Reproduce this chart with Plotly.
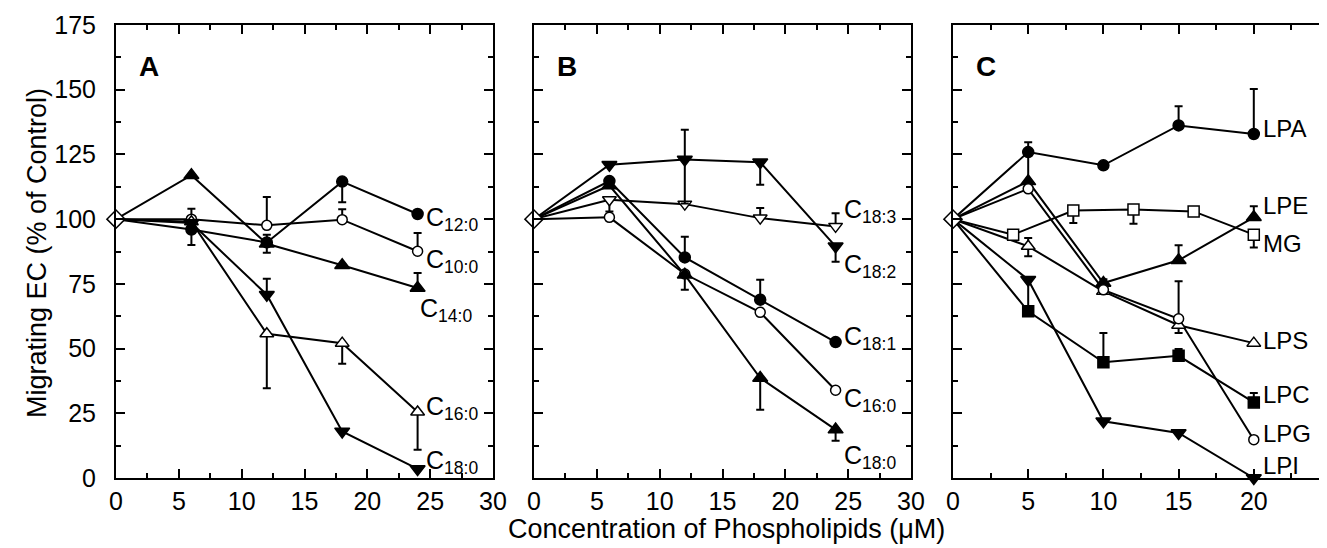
import plotly.graph_objects as go

# ---------------- data ----------------
xA = [0, 6, 12, 18, 24]
A_C12 = [100, 96, 91, 114.5, 102]
A_C12_minus = [0, 6, 0, 8, 0]
A_C10 = [100, 100, 97.6, 99.8, 87.6]
A_C10_plus = [0, 4, 11, 4, 7]
A_C14 = [100, 117, 90.5, 82.2, 73.4]
A_C14_plus = [0, 0, 3.5, 0, 5.8]
A_C14_minus = [0, 0, 3.5, 0, 0]
A_C16 = [100, 99, 55.7, 52.1, 25.5]
A_C16_minus = [0, 0, 21, 8, 14.6]
A_C18 = [100, 98.5, 70.8, 18, 3.5]
A_C18_plus = [0, 0, 6.2, 0, 0]

xB = [0, 6, 12, 18, 24]
B_C183 = [100, 107.5, 105.8, 100.4, 97.2]
B_C183_plus = [0, 0, 0, 3.9, 5.1]
B_C183_minus = [0, 4.5, 0, 0, 0]
B_C182 = [100, 121, 123, 122, 89.5]
B_C182_plus = [0, 0, 11.5, 0, 0]
B_C182_minus = [0, 0, 17, 8.7, 6]
B_C181 = [100, 114.7, 85.2, 68.9, 52.5]
B_C181_plus = [0, 0, 8, 7.7, 0]
B_C160 = [100, 100.7, 78.8, 64, 33.9]
B_C180 = [100, 113, 78.5, 38.6, 18.7]
B_C180_minus = [0, 0, 5.8, 12.2, 4.3]

xC = [0, 5, 10, 15, 20]
xMG = [0, 4, 8, 12, 16, 20]
C_LPA = [100, 125.9, 120.8, 136.2, 132.9]
C_LPA_plus = [0, 3.8, 0, 7.4, 17.4]
C_LPE = [100, 114.6, 75.3, 84.1, 100.7]
C_LPE_plus = [0, 11, 1.5, 5.8, 4.3]
C_MG = [100, 94, 103.3, 103.7, 103, 94]
C_MG_minus = [0, 0, 4.8, 5.5, 0, 5]
C_LPS = [100, 89.5, 72.1, 59, 52.1]
C_LPS_plus = [0, 3.2, 0, 0, 0]
C_LPS_minus = [0, 3.8, 0, 3, 0]
C_LPG = [100, 111.7, 72.7, 61.5, 14.8]
C_LPG_plus = [0, 0, 0, 14.5, 0]
C_LPC = [100, 64.4, 44.7, 47.2, 29.2]
C_LPC_plus = [0, 0, 11.3, 2.6, 3.6]
C_LPI = [100, 76.6, 21.9, 17.4, 0]
C_LPI_minus = [0, 12.5, 0, 0, 0]

x_ticks_AB = [0, 5, 10, 15, 20, 25, 30]
x_ticks_C = [0, 5, 10, 15, 20, 25]
y_ticks = [0, 25, 50, 75, 100, 125, 150, 175]

FONT = "Liberation Sans, Arial, Helvetica, sans-serif"
fig = go.Figure()

SYM = {
    "fc": ("circle", "black", 11),
    "oc": ("circle", "white", 10),
    "ftu": ("triangle-up", "black", 13),
    "otu": ("triangle-up", "white", 12),
    "ftd": ("triangle-down", "black", 13),
    "otd": ("triangle-down", "white", 12),
    "fs": ("square", "black", 11),
    "os": ("square", "white", 11),
}

series = [
    (xA, A_C12, "fc", "", None, A_C12_minus),
    (xA, A_C10, "oc", "", A_C10_plus, None),
    (xA, A_C14, "ftu", "", A_C14_plus, A_C14_minus),
    (xA, A_C16, "otu", "", None, A_C16_minus),
    (xA, A_C18, "ftd", "", A_C18_plus, None),
    (xB, B_C183, "otd", "2", B_C183_plus, B_C183_minus),
    (xB, B_C182, "ftd", "2", B_C182_plus, B_C182_minus),
    (xB, B_C181, "fc", "2", B_C181_plus, None),
    (xB, B_C160, "oc", "2", None, None),
    (xB, B_C180, "ftu", "2", None, B_C180_minus),
    (xC, C_LPA, "fc", "3", C_LPA_plus, None),
    (xC, C_LPE, "ftu", "3", C_LPE_plus, None),
    (xMG, C_MG, "os", "3", None, C_MG_minus),
    (xC, C_LPS, "otu", "3", C_LPS_plus, C_LPS_minus),
    (xC, C_LPG, "oc", "3", C_LPG_plus, None),
    (xC, C_LPC, "fs", "3", C_LPC_plus, None),
    (xC, C_LPI, "ftd", "3", None, C_LPI_minus),
]
# lines first
for xs, ys, sym, ax, p, m in series:
    fig.add_trace(go.Scatter(x=xs, y=ys, mode="lines", showlegend=False,
                             line=dict(color="black", width=2),
                             xaxis="x" + ax, yaxis="y" + ax, cliponaxis=False))
# then markers with error bars
for xs, ys, sym, ax, p, m in series:
    s, c, sz = SYM[sym]
    err = None
    if p is not None or m is not None:
        pp = p if p is not None else [0] * len(ys)
        mm = m if m is not None else [0] * len(ys)
        err = dict(type="data", symmetric=False, array=pp[1:], arrayminus=mm[1:],
                   color="black", thickness=2, width=4)
    fig.add_trace(go.Scatter(
        x=xs[1:], y=ys[1:], mode="markers", showlegend=False,
        marker=dict(symbol=s, color=c, size=sz, line=dict(color="black", width=1.5)),
        error_y=err, xaxis="x" + ax, yaxis="y" + ax, cliponaxis=False))
# shared open diamond at the origin of each panel
for xs, ys, ax in [(xA, A_C12, ""), (xB, B_C183, "2"), (xC, C_LPA, "3")]:
    fig.add_trace(go.Scatter(
        x=xs[:1], y=ys[:1], mode="markers", showlegend=False,
        marker=dict(symbol="diamond", color="white", size=14, line=dict(color="black", width=1.5)),
        xaxis="x" + ax, yaxis="y" + ax, cliponaxis=False))

W, H = 1327, 548
doms = [(108 / W, 485 / W), (526 / W, 903 / W), (945 / W, 1321 / W)]
ydom = (1 - 470 / H, 1 - 17 / H)

TICKFONT = dict(family=FONT, size=25, color="black")
common_x = dict(showline=True, linecolor="black", linewidth=2, mirror="ticks",
                ticks="inside", ticklen=9, tickwidth=2, tickcolor="black",
                showgrid=False, zeroline=False, automargin=False,
                tickfont=TICKFONT, ticklabelstandoff=0,
                minor=dict(ticks="inside", ticklen=5, tickwidth=2, tickcolor="black", dtick=2.5, showgrid=False))
common_y = dict(showline=True, linecolor="black", linewidth=2, mirror="ticks",
                ticks="inside", ticklen=9, tickwidth=2, tickcolor="black",
                showgrid=False, zeroline=False, automargin=False, range=[0, 175],
                tickvals=y_ticks, tickfont=TICKFONT,
                minor=dict(ticks="inside", ticklen=5, tickwidth=2, tickcolor="black", dtick=12.5, showgrid=False))

fig.update_layout(
    width=W, height=H, margin=dict(l=0, r=0, t=0, b=0),
    paper_bgcolor="white", plot_bgcolor="white",
    xaxis=dict(common_x, domain=doms[0], range=[0, 30], tickvals=x_ticks_AB, anchor="y"),
    xaxis2=dict(common_x, domain=doms[1], range=[0, 30], tickvals=x_ticks_AB, anchor="y2"),
    xaxis3=dict(common_x, domain=doms[2], range=[0, 25], tickvals=x_ticks_C, anchor="y3"),
    yaxis=dict(common_y, domain=ydom, anchor="x", ticklabelstandoff=13),
    yaxis2=dict(common_y, domain=ydom, anchor="x2", showticklabels=False),
    yaxis3=dict(common_y, domain=ydom, anchor="x3", showticklabels=False),
)

ann = []


def lab(text, x, y, ax, size):
    ann.append(dict(text=text, x=x, y=y, xref="x" + ax, yref="y" + ax, showarrow=False,
                    xanchor="left", yanchor="middle", font=dict(family=FONT, size=size, color="black")))


sub = lambda base, s: f"{base}<sub>{s}</sub>"
lab(sub("C", "12:0"), 24.5, 100, "", 25)
lab(sub("C", "10:0"), 24.5, 84, "", 25)
lab(sub("C", "14:0"), 24.0, 65, "", 25)
lab(sub("C", "16:0"), 24.5, 27, "", 25)
lab(sub("C", "18:0"), 24.5, 6, "", 25)
lab(sub("C", "18:3"), 24.5, 103, "2", 25)
lab(sub("C", "18:2"), 24.5, 82, "2", 25)
lab(sub("C", "18:1"), 24.5, 54, "2", 25)
lab(sub("C", "16:0"), 24.5, 30, "2", 25)
lab(sub("C", "18:0"), 24.5, 8, "2", 25)
for t, y in [("LPA", 135), ("LPE", 105.4), ("MG", 90.4), ("LPS", 53), ("LPC", 32.4), ("LPG", 17), ("LPI", 5)]:
    lab(t, 20.5, y, "3", 24)

for t, x, ax in [("A", 1.7, ""), ("B", 1.7, "2"), ("C", 1.4, "3")]:
    ann.append(dict(text=f"<b>{t}</b>", x=x, y=159, xref="x" + ax, yref="y" + ax, showarrow=False,
                    xanchor="left", yanchor="middle", font=dict(family=FONT, size=28, color="black")))

ann.append(dict(text="Migrating EC (% of Control)", x=29 / W, y=1 - 245 / H, xref="paper", yref="paper",
                textangle=-90, showarrow=False, xanchor="center", yanchor="middle",
                font=dict(family=FONT, size=27, color="black")))
ann.append(dict(text="Concentration of Phospholipids (μM)", x=718 / W, y=1 - 521 / H, xref="paper", yref="paper",
                showarrow=False, xanchor="center", yanchor="middle",
                font=dict(family=FONT, size=27, color="black")))
fig.update_layout(annotations=ann)

fig.write_html("out.html")
